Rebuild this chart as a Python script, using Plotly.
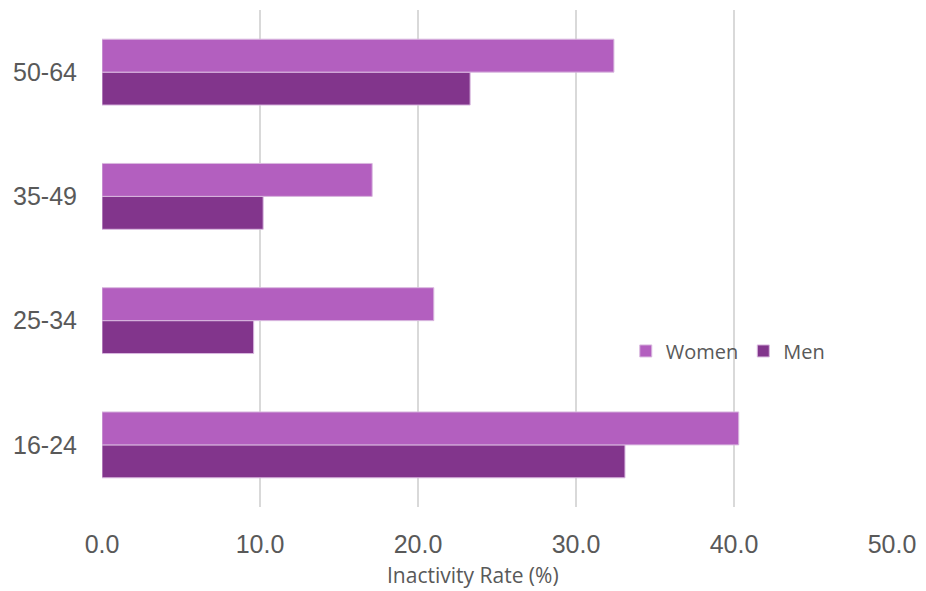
import plotly.graph_objects as go

categories = ["16-24", "25-34", "35-49", "50-64"]
women = [40.3, 21.0, 17.1, 32.4]
men = [33.1, 9.6, 10.2, 23.3]
x_ticks = [0, 10, 20, 30, 40, 50]
x_tick_labels = ["0.0", "10.0", "20.0", "30.0", "40.0", "50.0"]
x_title = "Inactivity Rate (%)"

fig = go.Figure()
fig.add_trace(go.Bar(
    y=categories, x=men, name="Men", orientation="h",
    marker=dict(color="#82358C", line=dict(color="#D9B8DF", width=1)),
    legendrank=2,
))
fig.add_trace(go.Bar(
    y=categories, x=women, name="Women", orientation="h",
    marker=dict(color="#B35FBF", line=dict(color="#D9B8DF", width=1)),
    legendrank=1,
))

fig.update_layout(
    width=926, height=591,
    margin=dict(l=102, r=27, t=10, b=84),
    paper_bgcolor="white", plot_bgcolor="white",
    barmode="group", bargap=0.47, bargroupgap=0,
    font=dict(family="Liberation Sans, Arial, sans-serif", color="#595959"),
    legend=dict(
        orientation="h", x=0.663, y=0.314, xanchor="left", yanchor="middle",
        font=dict(family="Open Sans, sans-serif", size=20, color="#595959"),
        bgcolor="rgba(0,0,0,0)", itemwidth=30, traceorder="normal",
    ),
    showlegend=True,
    annotations=[dict(
        text=x_title, xref="paper", yref="paper", x=0.47, y=-0.17,
        xanchor="center", yanchor="bottom", showarrow=False,
        font=dict(family="Open Sans, sans-serif", size=21, color="#595959"),
    )],
)
fig.update_xaxes(
    range=[0, 50], tickvals=x_ticks, ticktext=x_tick_labels,
    showgrid=True, gridcolor="#D9D9D9", gridwidth=1.5,
    zeroline=False, showline=False,
    tickfont=dict(size=25, color="#595959"),
    ticklabelstandoff=20,
)
fig.update_yaxes(
    categoryorder="array", categoryarray=categories,
    showgrid=False, zeroline=False, showline=False,
    tickfont=dict(size=25, color="#595959"),
    ticklabelstandoff=24,
)

fig.write_html(
    "out.html",
    config={"displayModeBar": False},
    post_script="document.body.style.margin='0';document.body.style.overflow='hidden';",
)
